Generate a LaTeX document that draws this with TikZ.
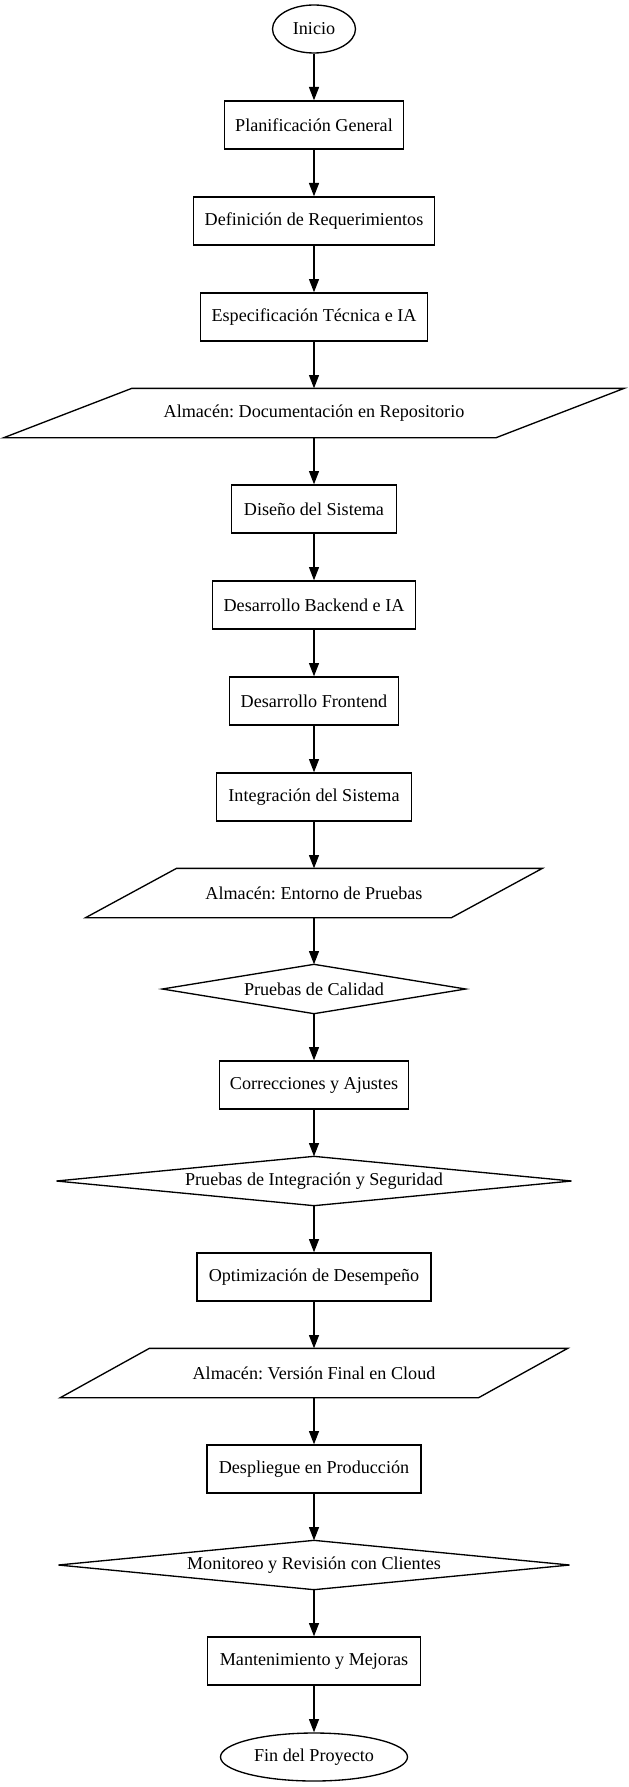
\documentclass[tikz,border=0pt]{standalone}
\usepackage{fontspec}
\setmainfont{Liberation Serif}
\usetikzlibrary{arrows.meta,shapes.geometric}
\frenchspacing
\begin{document}
\begin{tikzpicture}[x=0.75pt,y=-0.75pt,
  every node/.style={font=\fontsize{13.6}{16}\selectfont\frenchspacing, inner sep=0pt, line width=1pt},
  procbox/.style={draw, rectangle, minimum height=36pt, minimum width=#1},
  term/.style={draw, ellipse, minimum height=36pt, minimum width=#1},
  store/.style={rectangle, minimum height=36pt, minimum width=#1},
  decide/.style={rectangle, minimum height=36pt, minimum width=#1},
  outline/.style={line width=1pt, line join=miter},
  flow/.style={-{Triangle[length=10pt,width=7.5pt]}, line width=1pt}]
\useasboundingbox (0,0) rectangle (628,1787);

\node[term=62.25pt]      (n1)  at (314,29)   {Inicio};
\node[procbox=134.25pt]  (n2)  at (314,125)  {Planificación General};
\node[procbox=180.75pt]  (n3)  at (314,221)  {Definición de Requerimientos};
\node[procbox=170.25pt]  (n4)  at (314,317)  {Especificación Técnica e IA};
\node[store=368.25pt]    (n5)  at (314,413)  {Almacén: Documentación en Repositorio};
\node[procbox=123.75pt]  (n6)  at (314,509)  {Diseño del Sistema};
\node[procbox=152.25pt]  (n7)  at (314,605)  {Desarrollo Backend e IA};
\node[procbox=126.75pt]  (n8)  at (314,701)  {Desarrollo Frontend};
\node[procbox=146.25pt]  (n9)  at (314,797)  {Integración del Sistema};
\node[store=273.4pt]     (n10) at (314,893)  {Almacén: Entorno de Pruebas};
\node[decide=226.5pt]    (n11) at (314,989)  {Pruebas de Calidad};
\node[procbox=141.75pt]  (n12) at (314,1085) {Correcciones y Ajustes};
\node[decide=385.5pt]    (n13) at (314,1181) {Pruebas de Integración y Seguridad};
\node[procbox=175.5pt]   (n14) at (314,1277) {Optimización de Desempeño};
\node[store=312.75pt]    (n15) at (314,1373) {Almacén: Versión Final en Cloud};
\node[procbox=160.5pt]   (n16) at (314,1469) {Despliegue en Producción};
\node[decide=382.5pt]    (n17) at (314,1565) {Monitoreo y Revisión con Clientes};
\node[procbox=159.75pt]  (n18) at (314,1661) {Mantenimiento y Mejoras};
\node[term=140.25pt]     (n19) at (314,1757) {Fin del Proyecto};

% parallelograms
\draw[outline] ([xshift=48pt]n5.north west) -- ([xshift=48pt]n5.north east)
  -- ([xshift=-48pt]n5.south east) -- ([xshift=-48pt]n5.south west) -- cycle;
\draw[outline] ([xshift=34.1pt]n10.north west) -- ([xshift=34.1pt]n10.north east)
  -- ([xshift=-34.1pt]n10.south east) -- ([xshift=-34.1pt]n10.south west) -- cycle;
\draw[outline] ([xshift=33.4pt]n15.north west) -- ([xshift=33.4pt]n15.north east)
  -- ([xshift=-33.4pt]n15.south east) -- ([xshift=-33.4pt]n15.south west) -- cycle;
% diamonds
\foreach \d in {n11,n13,n17}
  \draw[outline] (\d.west) -- (\d.north) -- (\d.east) -- (\d.south) -- cycle;

% connectors
\foreach \a/\b in {n1/n2,n2/n3,n3/n4,n4/n5,n5/n6,n6/n7,n7/n8,n8/n9,n9/n10,n10/n11,
                   n11/n12,n12/n13,n13/n14,n14/n15,n15/n16,n16/n17,n17/n18,n18/n19}
  \draw[flow] (\a.south) -- (\b.north);
\end{tikzpicture}
\end{document}
